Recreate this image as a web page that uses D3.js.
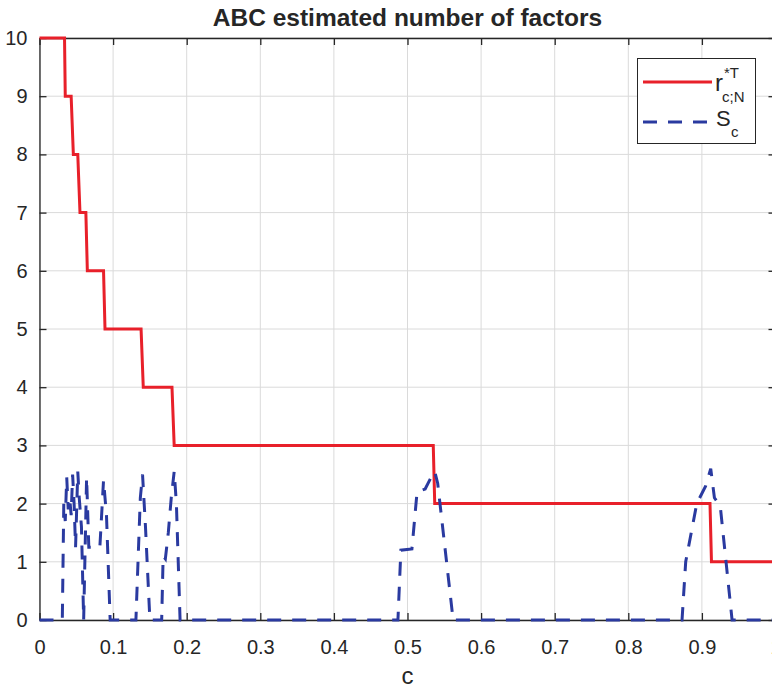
<!DOCTYPE html>
<html>
<head>
<meta charset="utf-8">
<script src="https://cdn.jsdelivr.net/npm/d3@7/dist/d3.min.js"></script>
<style>
  body { margin: 0; background: #fff; }
  text { font-family: "Liberation Sans", Arial, sans-serif; fill: #262626; }
</style>
</head>
<body>
<div id="chart"></div>
<script>
// red step line r*T_{c;N}
var redC = [0, 0.034, 0.035, 0.043, 0.046, 0.052, 0.055, 0.063, 0.065, 0.087, 0.089, 0.138, 0.141, 0.180, 0.183, 0.535, 0.537, 0.911, 0.913, 1.0];
var redR = [10, 10, 9, 9, 8, 8, 7, 7, 6, 6, 5, 5, 4, 4, 3, 3, 2, 2, 1, 1];

// blue dashed S_c
var blueC = [0, 0.031, 0.033, 0.035, 0.037, 0.039, 0.041, 0.043, 0.045, 0.047, 0.049, 0.052, 0.054, 0.057, 0.060, 0.064, 0.067, 0.082, 0.087, 0.091, 0.096,
             0.131, 0.137, 0.140, 0.144, 0.150, 0.166, 0.168, 0.171, 0.175, 0.179, 0.183, 0.186, 0.191,
             0.487, 0.491, 0.506, 0.513, 0.524, 0.534, 0.537, 0.541, 0.562,
             0.873, 0.878, 0.893, 0.905, 0.912, 0.917, 0.925, 0.941, 1.0];
var blueS = [0, 0, 2.0, 1.7, 2.45, 1.9, 2.1, 1.8, 2.5, 2.0, 1.25, 2.55, 2.1, 1.6, 0, 2.45, 1.25, 1.25, 2.4, 1.8, 0,
             0, 2.1, 2.5, 1.6, 0, 0, 1.1, 1.05, 1.5, 2.1, 2.55, 2.0, 0,
             0, 1.2, 1.22, 2.2, 2.25, 2.5, 2.55, 2.35, 0,
             0, 1.0, 2.0, 2.3, 2.6, 2.1, 1.95, 0, 0];

var xTicks = [0, 0.1, 0.2, 0.3, 0.4, 0.5, 0.6, 0.7, 0.8, 0.9, 1];
var xTickLabels = ["0", "0.1", "0.2", "0.3", "0.4", "0.5", "0.6", "0.7", "0.8", "0.9", "1"];
var yTicks = [0, 1, 2, 3, 4, 5, 6, 7, 8, 9, 10];

var width = 772, height = 689;
var margin = {left: 39.5, right: 775.5, top: 38, bottom: 620};

var svg = d3.select("#chart").append("svg")
    .attr("width", width)
    .attr("height", height);

var x = d3.scaleLinear().domain([0, 1]).range([margin.left, margin.right]);
var y = d3.scaleLinear().domain([0, 10]).range([margin.bottom, margin.top]);

// grid
svg.append("g")
    .selectAll("line")
    .data(xTicks)
    .enter().append("line")
    .attr("x1", function(d) { return x(d); })
    .attr("x2", function(d) { return x(d); })
    .attr("y1", margin.top)
    .attr("y2", margin.bottom)
    .attr("stroke", "#dadada")
    .attr("stroke-width", 1);

svg.append("g")
    .selectAll("line")
    .data(yTicks)
    .enter().append("line")
    .attr("x1", margin.left)
    .attr("x2", margin.right)
    .attr("y1", function(d) { return y(d); })
    .attr("y2", function(d) { return y(d); })
    .attr("stroke", "#dadada")
    .attr("stroke-width", 1);

// axes (ticks inward, box)
var xAxis = d3.axisBottom(x).tickValues(xTicks)
    .tickFormat(function(d, i) { return xTickLabels[i]; })
    .tickSizeInner(-7).tickSizeOuter(0).tickPadding(20);
var yAxis = d3.axisLeft(y).tickValues(yTicks)
    .tickSizeInner(-7).tickSizeOuter(0).tickPadding(12);

var gx = svg.append("g").attr("transform", "translate(0," + margin.bottom + ")").call(xAxis);
var gy = svg.append("g").attr("transform", "translate(" + margin.left + ",0)").call(yAxis);
var gxTop = svg.append("g").attr("transform", "translate(0," + margin.top + ")")
    .call(d3.axisTop(x).tickValues(xTicks).tickSizeInner(-7).tickSizeOuter(0).tickFormat(""));
var gyRight = svg.append("g").attr("transform", "translate(" + margin.right + ",0)")
    .call(d3.axisRight(y).tickValues(yTicks).tickSizeInner(-7).tickSizeOuter(0).tickFormat(""));

[gx, gy, gxTop, gyRight].forEach(function(g) {
    g.select(".domain").attr("stroke", "#262626").attr("stroke-width", 1.3);
    g.selectAll(".tick line").attr("stroke", "#262626").attr("stroke-width", 1.3);
    g.selectAll(".tick text")
        .attr("font-family", "Liberation Sans, Arial, sans-serif")
        .attr("font-size", 20)
        .attr("fill", "#262626");
});

// lines
var redLine = d3.line()
    .x(function(d, i) { return x(redC[i]); })
    .y(function(d) { return y(d); });
var blueLine = d3.line()
    .x(function(d, i) { return x(blueC[i]); })
    .y(function(d) { return y(d); });

svg.append("path")
    .attr("d", redLine(redR))
    .attr("fill", "none")
    .attr("stroke", "#e8202a")
    .attr("stroke-width", 3);

svg.append("path")
    .attr("d", blueLine(blueS))
    .attr("fill", "none")
    .attr("stroke", "#2a3aa0")
    .attr("stroke-width", 3)
    .attr("stroke-dasharray", "14,11");

// title and x label
svg.append("text")
    .attr("x", (margin.left + margin.right) / 2)
    .attr("y", 26)
    .attr("text-anchor", "middle")
    .attr("font-size", 24.5)
    .attr("font-weight", "bold")
    .attr("fill", "#000")
    .text("ABC estimated number of factors");

svg.append("text")
    .attr("x", (margin.left + margin.right) / 2)
    .attr("y", 684)
    .attr("text-anchor", "middle")
    .attr("font-size", 24)
    .text("c");

// legend
var lg = svg.append("g");
lg.append("rect")
    .attr("x", 637.5).attr("y", 58.5)
    .attr("width", 118).attr("height", 85)
    .attr("fill", "#fff")
    .attr("stroke", "#262626")
    .attr("stroke-width", 1);

lg.append("line")
    .attr("x1", 643).attr("x2", 712)
    .attr("y1", 82).attr("y2", 82)
    .attr("stroke", "#e8202a").attr("stroke-width", 3);
lg.append("line")
    .attr("x1", 643).attr("x2", 712)
    .attr("y1", 122).attr("y2", 122)
    .attr("stroke", "#2a3aa0").attr("stroke-width", 3)
    .attr("stroke-dasharray", "14,11");

lg.append("text").attr("x", 715).attr("y", 91).attr("font-size", 24).text("r");
lg.append("text").attr("x", 724).attr("y", 78).attr("font-size", 15).text("*T");
lg.append("text").attr("x", 722).attr("y", 102).attr("font-size", 15).text("c;N");
lg.append("text").attr("x", 716).attr("y", 126).attr("font-size", 22).text("S");
lg.append("text").attr("x", 731).attr("y", 137).attr("font-size", 15).text("c");
</script>
</body>
</html>
